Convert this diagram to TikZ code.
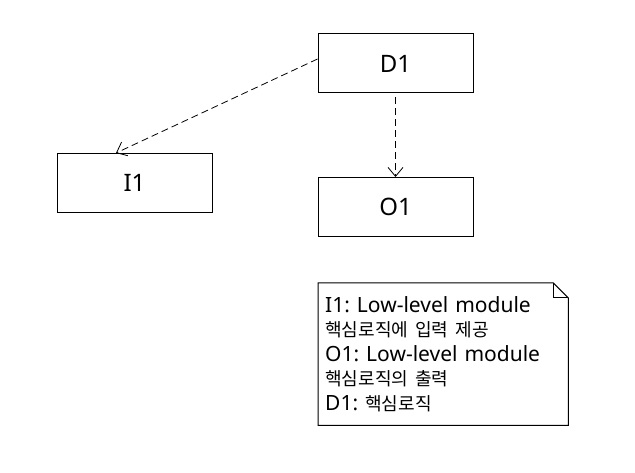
\documentclass[tikz,border=0pt]{standalone}
\usepackage{fontspec}
\setmainfont{Noto Sans}
\newfontfamily\krfont[Scale=0.86]{Noto Sans CJK KR}
\frenchspacing
\usetikzlibrary{arrows.meta}
\tikzset{box/.style={draw, line width=1pt, minimum width=155pt, minimum height=59pt, inner sep=0pt, font=\fontsize{24}{28}\selectfont},
	dep/.style={draw, line width=0.8pt, dash pattern=on 7pt off 4pt, -{Straight Barb[length=9pt, width=15pt, line width=0.8pt]}},
	notebox/.style={minimum width=250pt, minimum height=142pt, inner xsep=7pt, inner ysep=0pt, text width=236pt, align=left, font=\fontsize{21}{24.5}\selectfont}}

\begin{document}
\begin{tikzpicture}[x=1pt, y=-1pt]
		\useasboundingbox (0,0) rectangle (635,473);
		\node[box] (D1) at (395.5,63.5) {D1};
		\node[box] (I1) at (134.5,183) {I1};
		\node[box] (O1) at (395.5,207) {O1};
		\draw[dep] ([yshift=4.5pt]D1.west) -- ([xshift=-18.5pt]I1.north);
		\draw[dep] ([yshift=-4pt]D1.south) -- (O1.north);
		\node[notebox, anchor=north west] (note) at (318,283) {I1: Low-level module\\{\krfont 핵심로직에} {\krfont 입력} {\krfont 제공}\\O1: Low-level module\\{\krfont 핵심로직의} {\krfont 출력}\\D1: {\krfont 핵심로직}};
		\draw[line width=1pt] (note.north west) -- ([xshift=-15pt]note.north east) -- ([yshift=-15pt]note.north east) -- (note.south east) -- (note.south west) -- cycle;
		\draw[line width=1pt] ([xshift=-15pt]note.north east) |- ([yshift=-15pt]note.north east);
	\end{tikzpicture}
\end{document}
